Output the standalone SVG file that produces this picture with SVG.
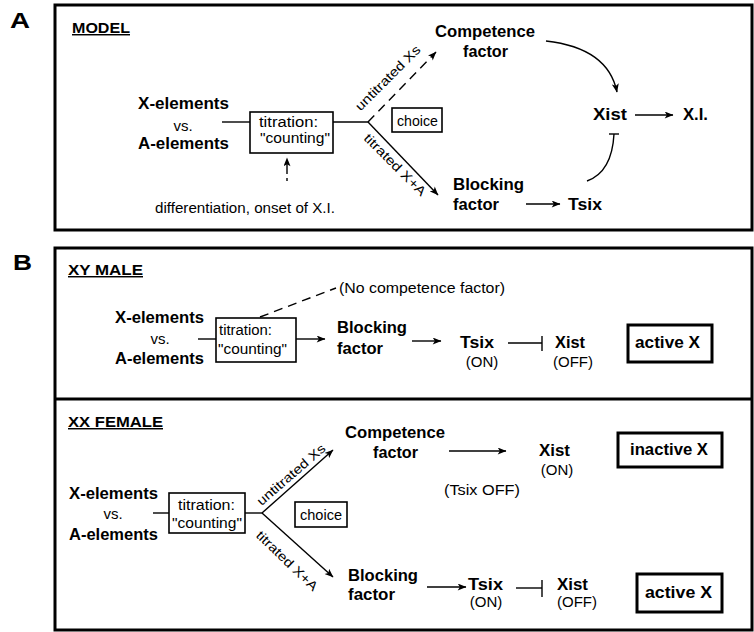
<svg xmlns="http://www.w3.org/2000/svg" width="754" height="632" viewBox="0 0 754 632">
<style>
text{font-family:"Liberation Sans",Arial,sans-serif;fill:#000}
.b{font-weight:bold;font-size:17px}
.r{font-size:14px}
.v{font-size:15px}
.s{font-size:13px}
.lab{font-weight:bold;font-size:22px}
.hd{font-weight:bold;font-size:14.5px;text-decoration:underline}
.panel{fill:none;stroke:#000;stroke-width:3}
.box{fill:#fff;stroke:#000;stroke-width:1.6}
.tbox{fill:#fff;stroke:#000;stroke-width:3}
.ln{fill:none;stroke:#000;stroke-width:1.4}
.ar{fill:none;stroke:#000;stroke-width:1.4;marker-end:url(#ah)}
.da{stroke-dasharray:9 6}
</style>
<defs>
<marker id="ah" viewBox="0 0 10 8" refX="9.5" refY="4" markerWidth="10" markerHeight="7" orient="auto" markerUnits="userSpaceOnUse">
<path d="M0,0 L10,4 L0,8 L2.5,4 z" fill="#000"/>
</marker>
</defs>

<!-- Panel frames -->
<g id="frames">
<rect class="panel" x="55" y="5" width="697" height="225"/>
<rect class="panel" x="55" y="248" width="697" height="382"/>
<line class="panel" x1="55" y1="399" x2="752" y2="399"/>
<text class="lab" x="10" y="28" textLength="20" lengthAdjust="spacingAndGlyphs">A</text>
<text class="lab" x="13" y="270" textLength="19" lengthAdjust="spacingAndGlyphs">B</text>
</g>

<!-- ===== Panel A ===== -->
<g id="A-title"><text class="hd" x="72" y="33" textLength="58" lengthAdjust="spacingAndGlyphs">MODEL</text></g>
<g id="A-elements">
<text class="b" x="138" y="109" textLength="91" lengthAdjust="spacingAndGlyphs">X-elements</text>
<text class="v" x="183" y="131" text-anchor="middle">vs.</text>
<text class="b" x="138" y="149" textLength="91" lengthAdjust="spacingAndGlyphs">A-elements</text>
</g>
<g id="A-titration">
<rect class="box" x="250" y="112" width="83" height="41"/>
<text class="r" x="259" y="127" textLength="59" lengthAdjust="spacingAndGlyphs">titration:</text>
<text class="r" x="260" y="143" textLength="70" lengthAdjust="spacingAndGlyphs">"counting"</text>
</g>
<g id="A-choice">
<rect class="box" x="392" y="108" width="50" height="24"/>
<text class="r" x="397" y="126" textLength="41" lengthAdjust="spacingAndGlyphs">choice</text>
</g>
<g id="A-competence">
<text class="b" x="435" y="37" textLength="100" lengthAdjust="spacingAndGlyphs">Competence</text>
<text class="b" x="463" y="57" textLength="45" lengthAdjust="spacingAndGlyphs">factor</text>
</g>
<g id="A-blocking">
<text class="b" x="453" y="190" textLength="71" lengthAdjust="spacingAndGlyphs">Blocking</text>
<text class="b" x="453" y="210" textLength="46" lengthAdjust="spacingAndGlyphs">factor</text>
</g>
<g id="A-tsix"><text class="b" x="568" y="210" textLength="34" lengthAdjust="spacingAndGlyphs">Tsix</text></g>
<g id="A-xist"><text class="b" x="593" y="120" textLength="34" lengthAdjust="spacingAndGlyphs">Xist</text></g>
<g id="A-xi"><text class="b" x="683" y="120" textLength="25" lengthAdjust="spacingAndGlyphs">X.I.</text></g>
<g id="A-diff"><text class="r" x="155" y="213" textLength="180" lengthAdjust="spacingAndGlyphs">differentiation, onset of X.I.</text></g>

<g id="A-connectors">
<line class="ln" x1="222" y1="122" x2="250" y2="122"/>
<line class="ln" x1="333" y1="122" x2="368" y2="122"/>
<line class="ar da" x1="368" y1="122" x2="436" y2="52"/>
<line class="ar" x1="368" y1="122" x2="438" y2="195"/>
<text class="s" transform="translate(391,81) rotate(-45)" text-anchor="middle" textLength="86" lengthAdjust="spacingAndGlyphs">untitrated Xs</text>
<text class="s" transform="translate(392,168) rotate(45)" text-anchor="middle" textLength="82" lengthAdjust="spacingAndGlyphs">titrated X+A</text>
<line class="ar" x1="287" y1="181" x2="287" y2="158" stroke-dasharray="3 4 12 20"/>
<path class="ar" d="M546,41 Q608,48 617,92"/>
<line class="ar" x1="635" y1="115" x2="673" y2="115"/>
<line class="ar" x1="526" y1="204" x2="560" y2="204"/>
<path class="ln" d="M587,181 Q612,172 614,134"/>
<line class="ln" x1="609" y1="134" x2="619" y2="134"/>
</g>

<!-- ===== Panel B : XY male ===== -->
<g id="B-male-title"><text class="hd" x="68" y="275" textLength="75" lengthAdjust="spacingAndGlyphs">XY MALE</text></g>
<g id="B-male-elements">
<text class="b" x="115" y="323" textLength="89" lengthAdjust="spacingAndGlyphs">X-elements</text>
<text class="v" x="160" y="344" text-anchor="middle">vs.</text>
<text class="b" x="115" y="364" textLength="89" lengthAdjust="spacingAndGlyphs">A-elements</text>
</g>
<g id="B-male-titration">
<rect class="box" x="216" y="318" width="80" height="44"/>
<text class="r" x="219" y="335" textLength="53" lengthAdjust="spacingAndGlyphs">titration:</text>
<text class="r" x="218" y="354" textLength="69" lengthAdjust="spacingAndGlyphs">"counting"</text>
</g>
<g id="B-male-nocomp"><text class="r" x="339" y="293" textLength="166" lengthAdjust="spacingAndGlyphs">(No competence factor)</text></g>
<g id="B-male-blocking">
<text class="b" x="337" y="333" textLength="70" lengthAdjust="spacingAndGlyphs">Blocking</text>
<text class="b" x="337" y="354" textLength="46" lengthAdjust="spacingAndGlyphs">factor</text>
</g>
<g id="B-male-tsix">
<text class="b" x="460" y="348" textLength="34" lengthAdjust="spacingAndGlyphs">Tsix</text>
<text class="v" x="482" y="367" text-anchor="middle">(ON)</text>
</g>
<g id="B-male-xist">
<text class="b" x="555" y="348" textLength="30" lengthAdjust="spacingAndGlyphs">Xist</text>
<text class="v" x="573" y="367" text-anchor="middle">(OFF)</text>
</g>
<g id="B-male-active">
<rect class="tbox" x="628" y="325" width="84" height="37"/>
<text class="b" x="635" y="348" textLength="65" lengthAdjust="spacingAndGlyphs">active X</text>
</g>
<g id="B-male-connectors">
<line class="ln" x1="198" y1="339" x2="216" y2="339"/>
<line class="ar" x1="296" y1="339" x2="325" y2="339"/>
<line class="ln da" x1="260" y1="317" x2="336" y2="288"/>
<line class="ar" x1="412" y1="341" x2="441" y2="341"/>
<line class="ln" x1="508" y1="343" x2="542" y2="343"/>
<line class="ln" x1="542" y1="336" x2="542" y2="351"/>
</g>

<!-- ===== Panel B : XX female ===== -->
<g id="B-female-title"><text class="hd" x="68" y="427" textLength="95" lengthAdjust="spacingAndGlyphs">XX FEMALE</text></g>
<g id="B-female-elements">
<text class="b" x="69" y="499" textLength="89" lengthAdjust="spacingAndGlyphs">X-elements</text>
<text class="v" x="113" y="519" text-anchor="middle">vs.</text>
<text class="b" x="69" y="540" textLength="89" lengthAdjust="spacingAndGlyphs">A-elements</text>
</g>
<g id="B-female-titration">
<rect class="box" x="169" y="493" width="76" height="40"/>
<text class="r" x="178" y="510" textLength="57" lengthAdjust="spacingAndGlyphs">titration:</text>
<text class="r" x="172" y="528" textLength="70" lengthAdjust="spacingAndGlyphs">"counting"</text>
</g>
<g id="B-female-choice">
<rect class="box" x="295" y="502" width="52" height="25"/>
<text class="r" x="300" y="520" textLength="42" lengthAdjust="spacingAndGlyphs">choice</text>
</g>
<g id="B-female-competence">
<text class="b" x="345" y="438" textLength="100" lengthAdjust="spacingAndGlyphs">Competence</text>
<text class="b" x="373" y="458" textLength="45" lengthAdjust="spacingAndGlyphs">factor</text>
</g>
<g id="B-female-tsixoff"><text class="v" x="444" y="495" textLength="76" lengthAdjust="spacingAndGlyphs">(Tsix OFF)</text></g>
<g id="B-female-xist-on">
<text class="b" x="539" y="456" textLength="31" lengthAdjust="spacingAndGlyphs">Xist</text>
<text class="v" x="557" y="475" text-anchor="middle">(ON)</text>
</g>
<g id="B-female-inactive">
<rect class="tbox" x="618" y="433" width="104" height="34"/>
<text class="b" x="630" y="455" textLength="78" lengthAdjust="spacingAndGlyphs">inactive X</text>
</g>
<g id="B-female-blocking">
<text class="b" x="348" y="581" textLength="70" lengthAdjust="spacingAndGlyphs">Blocking</text>
<text class="b" x="348" y="600" textLength="47" lengthAdjust="spacingAndGlyphs">factor</text>
</g>
<g id="B-female-tsix">
<text class="b" x="468" y="590" textLength="35" lengthAdjust="spacingAndGlyphs">Tsix</text>
<text class="v" x="486" y="607" text-anchor="middle">(ON)</text>
</g>
<g id="B-female-xist-off">
<text class="b" x="557" y="590" textLength="31" lengthAdjust="spacingAndGlyphs">Xist</text>
<text class="v" x="577" y="607" text-anchor="middle">(OFF)</text>
</g>
<g id="B-female-active">
<rect class="tbox" x="637" y="574" width="85" height="38"/>
<text class="b" x="645" y="598" textLength="67" lengthAdjust="spacingAndGlyphs">active X</text>
</g>
<g id="B-female-connectors">
<line class="ln" x1="153" y1="513" x2="169" y2="513"/>
<line class="ln" x1="245" y1="513" x2="262" y2="513"/>
<line class="ar" x1="262" y1="513" x2="333" y2="450"/>
<line class="ar" x1="262" y1="513" x2="333" y2="577"/>
<text class="s" transform="translate(294,478) rotate(-41)" text-anchor="middle" textLength="86" lengthAdjust="spacingAndGlyphs">untitrated Xs</text>
<text class="s" transform="translate(284,564) rotate(44)" text-anchor="middle" textLength="80" lengthAdjust="spacingAndGlyphs">titrated X+A</text>
<line class="ar" x1="449" y1="451" x2="506" y2="451"/>
<line class="ar" x1="427" y1="587" x2="466" y2="587"/>
<line class="ln" x1="516" y1="588" x2="542" y2="588"/>
<line class="ln" x1="542" y1="580" x2="542" y2="597"/>
</g>
</svg>
